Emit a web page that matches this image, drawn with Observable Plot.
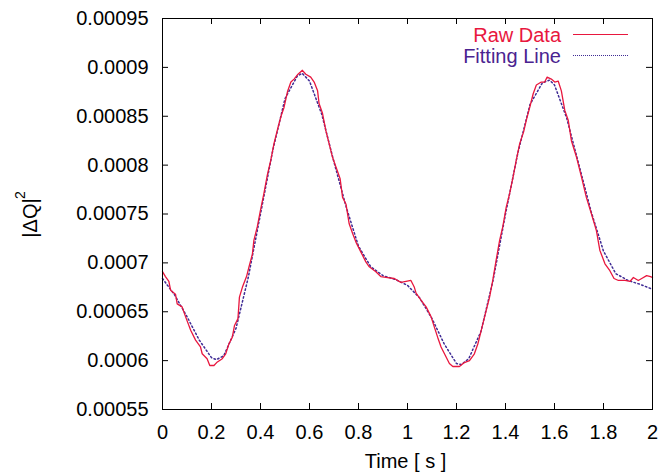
<!DOCTYPE html>
<html>
<head>
<meta charset="utf-8">
<script src="https://cdn.jsdelivr.net/npm/d3@7"></script>
<script src="https://cdn.jsdelivr.net/npm/@observablehq/plot@0.6"></script>
<style>
  html, body { margin: 0; padding: 0; background: #fff; }
  #wrap { position: relative; width: 660px; height: 475px; font-family: "Liberation Sans", Arial, sans-serif; }
  .leg { position: absolute; font-size: 20px; line-height: 20px; white-space: nowrap; }
  .legline { position: absolute; height: 0; }
</style>
</head>
<body>
<div id="wrap"></div>
<script>
// Raw data (time in s, |ΔQ|^2)
const rawTime = [0, 0.012, 0.026, 0.033, 0.053, 0.06, 0.08, 0.094, 0.115, 0.135, 0.155, 0.162, 0.182, 0.193, 0.21, 0.221, 0.244, 0.258, 0.271, 0.285, 0.294, 0.308, 0.314, 0.326, 0.343, 0.353, 0.367, 0.373, 0.387, 0.4, 0.414, 0.428, 0.442, 0.455, 0.472, 0.485, 0.496, 0.51, 0.524, 0.537, 0.553, 0.571, 0.585, 0.605, 0.619, 0.633, 0.639, 0.653, 0.667, 0.68, 0.694, 0.708, 0.725, 0.735, 0.749, 0.762, 0.776, 0.79, 0.81, 0.83, 0.844, 0.871, 0.891, 0.919, 0.946, 0.973, 0.994, 1.014, 1.028, 1.035, 1.055, 1.076, 1.096, 1.11, 1.123, 1.137, 1.155, 1.171, 1.185, 1.212, 1.232, 1.253, 1.273, 1.287, 1.301, 1.318, 1.335, 1.348, 1.362, 1.376, 1.389, 1.403, 1.417, 1.431, 1.444, 1.458, 1.474, 1.485, 1.499, 1.513, 1.526, 1.546, 1.56, 1.57, 1.587, 1.601, 1.615, 1.628, 1.642, 1.656, 1.669, 1.69, 1.71, 1.73, 1.751, 1.771, 1.785, 1.806, 1.826, 1.843, 1.861, 1.888, 1.908, 1.922, 1.942, 1.956, 1.976, 1.992, 2.0];
const rawValue = [0.000691, 0.000686, 0.000681, 0.000672, 0.000668, 0.000658, 0.000655, 0.000645, 0.000631, 0.000621, 0.000614, 0.000607, 0.000602, 0.000595, 0.000595, 0.000598, 0.000602, 0.000607, 0.000617, 0.000624, 0.000636, 0.000643, 0.000665, 0.000675, 0.000686, 0.000696, 0.000709, 0.000723, 0.000737, 0.000754, 0.000771, 0.00079, 0.000805, 0.000822, 0.000839, 0.000851, 0.000859, 0.000875, 0.000885, 0.000888, 0.000893, 0.000897, 0.000893, 0.00089, 0.000885, 0.000876, 0.000863, 0.000853, 0.000835, 0.000822, 0.000808, 0.000798, 0.000786, 0.000767, 0.00076, 0.00074, 0.00073, 0.000721, 0.000711, 0.000701, 0.000696, 0.000691, 0.000686, 0.000685, 0.000684, 0.00068, 0.000681, 0.000682, 0.000675, 0.000669, 0.000662, 0.000655, 0.000645, 0.000634, 0.000624, 0.000614, 0.000605, 0.000597, 0.000594, 0.000594, 0.000598, 0.0006, 0.000607, 0.000617, 0.000631, 0.000648, 0.000665, 0.000682, 0.000703, 0.000723, 0.000737, 0.000757, 0.000771, 0.000788, 0.000805, 0.000822, 0.000834, 0.000846, 0.000859, 0.000873, 0.000882, 0.000885, 0.000885, 0.00089, 0.000888, 0.000885, 0.000886, 0.000876, 0.000856, 0.000846, 0.000825, 0.000808, 0.000788, 0.000767, 0.00075, 0.000733, 0.000713, 0.000699, 0.000692, 0.000684, 0.000682, 0.000682, 0.000681, 0.000685, 0.000682, 0.000684, 0.000687, 0.000686, 0.000685];

// Fitting line
const fitTime = [0, 0.05, 0.1, 0.15, 0.2, 0.22, 0.25, 0.3, 0.35, 0.4, 0.45, 0.5, 0.55, 0.57, 0.6, 0.65, 0.7, 0.75, 0.8, 0.85, 0.9, 0.95, 1.0, 1.05, 1.1, 1.15, 1.2, 1.22, 1.25, 1.3, 1.35, 1.4, 1.45, 1.5, 1.55, 1.58, 1.6, 1.65, 1.7, 1.75, 1.8, 1.85, 1.9, 1.95, 2.0];
const fitValue = [0.000684, 0.000667, 0.000645, 0.000621, 0.000603, 0.000601, 0.000605, 0.000633, 0.000685, 0.00075, 0.000815, 0.000868, 0.000891, 0.000894, 0.000886, 0.000852, 0.000803, 0.000757, 0.000717, 0.000696, 0.000687, 0.000683, 0.000677, 0.000664, 0.000643, 0.000617, 0.000597, 0.000596, 0.000602, 0.00063, 0.000683, 0.00075, 0.000812, 0.000862, 0.000884, 0.000887, 0.000882, 0.000848, 0.0008, 0.000752, 0.000712, 0.000689, 0.000682, 0.000678, 0.000673];

const xTicks = [0, 0.2, 0.4, 0.6, 0.8, 1, 1.2, 1.4, 1.6, 1.8, 2];
const yTicks = [0.00055, 0.0006, 0.00065, 0.0007, 0.00075, 0.0008, 0.00085, 0.0009, 0.00095];
const seriesNames = ["Raw Data", "Fitting Line"];
const xLabel = "Time [ s ]";
const yLabel = "|ΔQ|";
const yLabelExp = "2";

const rawColor = "#e8173e";
const fitColor = "#3f2b95";
const fitTextColor = "#4a2390";

const raw = rawTime.map((t, i) => ({t, v: rawValue[i]}));
const fit = fitTime.map((t, i) => ({t, v: fitValue[i]}));

const W = 660, H = 475, mL = 162, mR = 8, mT = 18, mB = 66;
const innerW = W - mL - mR, innerH = H - mT - mB;
const tick = 6;
const font = "'Liberation Sans', Arial, sans-serif";

const chart = Plot.plot({
  width: W, height: H,
  marginLeft: mL, marginRight: mR, marginTop: mT, marginBottom: mB,
  style: {fontFamily: font, fontSize: "20px", background: "#fff", color: "#000"},
  x: {domain: [0, 2]},
  y: {domain: [0.00055, 0.00095]},
  marks: [
    Plot.axisX(xTicks, {tickSize: 0, tickPadding: 15, fontSize: 20, label: null, tickFormat: d => String(+d.toFixed(1))}),
    Plot.axisY(yTicks, {tickSize: 0, tickPadding: 14, fontSize: 20, label: null, tickFormat: d => String(+d.toFixed(5))}),
    // inward ticks on all four sides
    Plot.ruleX(xTicks, {insetTop: innerH - tick, stroke: "#000"}),
    Plot.ruleX(xTicks, {insetBottom: innerH - tick, stroke: "#000"}),
    Plot.ruleY(yTicks, {insetRight: innerW - tick, stroke: "#000"}),
    Plot.ruleY(yTicks, {insetLeft: innerW - tick, stroke: "#000"}),
    Plot.line(fit, {x: "t", y: "v", stroke: fitColor, strokeWidth: 1.5, strokeDasharray: "1.5,2.5"}),
    Plot.line(raw, {x: "t", y: "v", stroke: rawColor, strokeWidth: 1.3}),
    Plot.frame({stroke: "#000", strokeWidth: 1}),
    Plot.text([xLabel], {text: d => d, frameAnchor: "bottom", dy: 52, dx: -2, fontSize: 20, lineAnchor: "middle", fill: "#000"}),
    Plot.text([yLabel], {text: d => d, frameAnchor: "left", dx: -132, dy: 4, rotate: -90, fontSize: 20, lineAnchor: "middle", textAnchor: "middle", fill: "#000"}),
    Plot.text([yLabelExp], {text: d => d, frameAnchor: "left", dx: -142, dy: -19, rotate: -90, fontSize: 14, lineAnchor: "middle", textAnchor: "middle", fill: "#000"})
  ]
});

const wrap = document.getElementById("wrap");
wrap.appendChild(chart);

// legend overlay
function addLegend(name, color, textColor, baselineTop, dashed) {
  const s = document.createElement("div");
  s.className = "leg";
  s.textContent = name;
  s.style.color = textColor;
  s.style.right = (W - 561) + "px";
  s.style.top = baselineTop + "px";
  wrap.appendChild(s);
  const l = document.createElement("div");
  l.className = "legline";
  l.style.left = "573px";
  l.style.width = "55px";
  l.style.top = (baselineTop + 9) + "px";
  l.style.borderTop = dashed ? `1.5px dotted ${color}` : `1.3px solid ${color}`;
  wrap.appendChild(l);
}
addLegend(seriesNames[0], rawColor, rawColor, 25, false);
addLegend(seriesNames[1], fitColor, fitTextColor, 46, true);
</script>
</body>
</html>
